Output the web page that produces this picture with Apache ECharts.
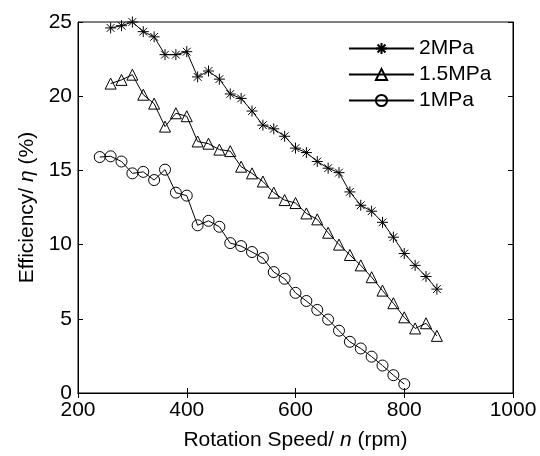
<!DOCTYPE html>
<html>
<head>
<meta charset="utf-8">
<script src="https://cdn.jsdelivr.net/npm/echarts@6/dist/echarts.min.js"></script>
<style>html,body{margin:0;padding:0;background:#fff;}#c{width:540px;height:456px;}</style>
</head>
<body>
<div id="c"></div>
<script>
var seriesNames = ['2MPa', '1.5MPa', '1MPa'];
var rpm2MPa = [260,280,300,320,340,360,380,400,420,440,460,480,500,520,540,560,580,600,620,640,660,680,700,720,740,760,780,800,820,840,860];
var eff2MPa = [24.6,24.75,25.0,24.35,24.0,22.8,22.8,23.0,21.3,21.7,21.15,20.15,19.85,19.0,18.05,17.8,17.3,16.5,16.2,15.6,15.15,14.85,13.55,12.65,12.25,11.5,10.5,9.4,8.6,7.85,7.0];
var rpm15MPa = [260,280,300,320,340,360,380,400,420,440,460,480,500,520,540,560,580,600,620,640,660,680,700,720,740,760,780,800,820,840,860];
var eff15MPa = [20.85,21.1,21.45,20.1,19.5,17.95,18.85,18.65,16.95,16.8,16.4,16.3,15.25,14.8,14.25,13.5,13.0,12.8,12.1,11.7,10.8,10.0,9.3,8.6,7.8,6.9,6.05,5.1,4.35,4.7,3.85];
var rpm1MPa = [240,260,280,300,320,340,360,380,400,420,440,460,480,500,520,540,560,580,600,620,640,660,680,700,720,740,760,780,800];
var eff1MPa = [15.9,15.95,15.6,14.8,14.9,14.35,15.05,13.5,13.3,11.3,11.6,11.2,10.1,9.9,9.5,9.1,8.15,7.7,6.75,6.2,5.6,4.95,4.2,3.45,3.0,2.45,1.85,1.2,0.6];
var xTicks = [200, 400, 600, 800, 1000];
var yTicks = [0, 5, 10, 15, 20, 25];

function pairs(xs, ys) { return xs.map(function (x, i) { return [x, ys[i]]; }); }

var FONT = '"Liberation Sans", Arial, sans-serif';
var FS = 21;
var starPath = 'path://M0,-10 L0,10 M-10,0 L10,0 M-7.07,-7.07 L7.07,7.07 M-7.07,7.07 L7.07,-7.07';

function mkSeries(name, data, symbol, size) {
  return {
    name: name,
    type: 'line',
    data: data,
    symbol: symbol,
    symbolSize: size,
    showAllSymbol: true,
    animation: false,
    color: '#000',
    lineStyle: { color: '#000', width: 1 },
    itemStyle: { color: 'rgba(0,0,0,0)', borderColor: '#000', borderWidth: 1 },
    emphasis: { disabled: true }
  };
}

var chart = echarts.init(document.getElementById('c'), null, { renderer: 'canvas' });
var xMin = xTicks[0], xMax = xTicks[xTicks.length - 1], xInt = xTicks[1] - xTicks[0];
var yMin = yTicks[0], yMax = yTicks[yTicks.length - 1], yInt = yTicks[1] - yTicks[0];

chart.setOption({
  backgroundColor: '#fff',
  animation: false,
  textStyle: { fontFamily: FONT },
  grid: { left: 78, right: 27, top: 22, bottom: 59, show: true, borderColor: '#000', borderWidth: 1, backgroundColor: 'transparent' },
  legend: {
    data: seriesNames,
    left: 336, top: 28,
    orient: 'vertical',
    padding: [10, 10, 10, 12],
    backgroundColor: '#fff',
    itemWidth: 65, itemHeight: 14, itemGap: 5,
    textStyle: { fontFamily: FONT, fontSize: FS, color: '#000' },
    selectedMode: false
  },
  xAxis: [{
    type: 'value', min: xMin, max: xMax, interval: xInt,
    name: 'Rotation Speed/ {i|n} (rpm)', nameLocation: 'middle', nameGap: 37,
    nameTextStyle: { fontFamily: FONT, fontSize: FS, color: '#000', rich: { i: { fontStyle: 'italic', fontFamily: FONT, fontSize: FS, color: '#000' } } },
    axisLine: { show: true, lineStyle: { color: '#000', width: 1 } },
    axisTick: { show: true, inside: true, length: 5, lineStyle: { color: '#000' } },
    axisLabel: { fontFamily: FONT, fontSize: FS, color: '#000', margin: 7, formatter: function (v) { return String(v); } },
    splitLine: { show: false }
  }, {
    type: 'value', position: 'top', min: xMin, max: xMax, interval: xInt,
    axisLine: { show: true, lineStyle: { color: '#000', width: 1 } },
    axisTick: { show: true, inside: true, length: 5, lineStyle: { color: '#000' } },
    axisLabel: { show: false }, splitLine: { show: false }
  }],
  yAxis: [{
    type: 'value', min: yMin, max: yMax, interval: yInt,
    name: 'Efficiency/ {i|η} (%)', nameLocation: 'middle', nameGap: 40,
    nameTextStyle: { fontFamily: FONT, fontSize: FS, color: '#000', rich: { i: { fontStyle: 'italic', fontFamily: FONT, fontSize: FS, color: '#000' } } },
    axisLine: { show: true, lineStyle: { color: '#000', width: 1 } },
    axisTick: { show: true, inside: true, length: 5, lineStyle: { color: '#000' } },
    axisLabel: { fontFamily: FONT, fontSize: FS, color: '#000', margin: 6 },
    splitLine: { show: false }
  }, {
    type: 'value', position: 'right', min: yMin, max: yMax, interval: yInt,
    axisLine: { show: true, lineStyle: { color: '#000', width: 1 } },
    axisTick: { show: true, inside: true, length: 5, lineStyle: { color: '#000' } },
    axisLabel: { show: false }, splitLine: { show: false }
  }],
  series: [
    mkSeries(seriesNames[0], pairs(rpm2MPa, eff2MPa), starPath, 11),
    mkSeries(seriesNames[1], pairs(rpm15MPa, eff15MPa), 'triangle', 11),
    mkSeries(seriesNames[2], pairs(rpm1MPa, eff1MPa), 'circle', 11)
  ]
});
</script>
</body>
</html>
